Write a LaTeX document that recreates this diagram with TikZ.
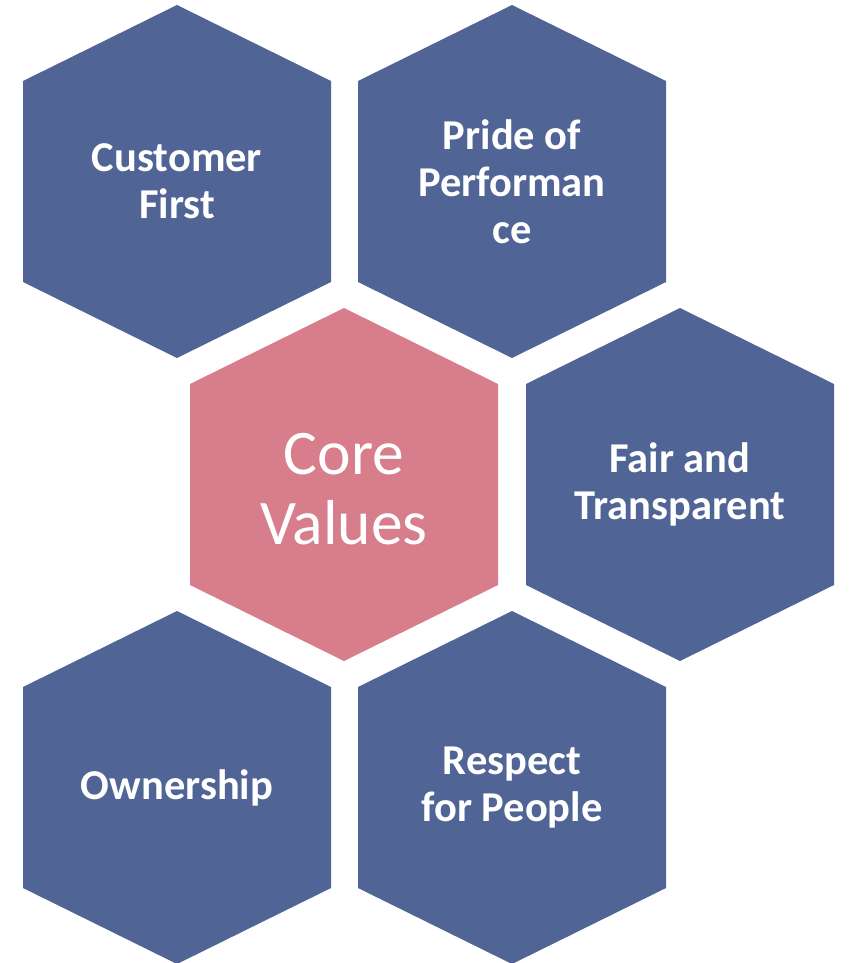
\documentclass[tikz,border=0pt]{standalone}
\usepackage{fontspec}
\setmainfont{Carlito}
\definecolor{hexblue}{HTML}{516496}
\definecolor{hexpink}{HTML}{D77D8B}
\newcommand\drawhex[3]{\fill[#3] ({#1-154},{#2-100.5}) -- (#1,{#2-176.5}) -- ({#1+154},{#2-100.5}) -- ({#1+154},{#2+100.5}) -- (#1,{#2+176.5}) -- ({#1-154},{#2+100.5}) -- cycle;}
\begin{document}
\begin{tikzpicture}[x=1pt,y=-1pt,
  valtext/.style={text=white,font=\fontsize{42.5}{47}\selectfont\bfseries,align=center,inner sep=0pt},
  coretext/.style={text=white,font=\fontsize{63.5}{70}\selectfont,align=center,inner sep=0pt}]
\useasboundingbox (0,0) rectangle (848,963);
\drawhex{177}{181.5}{hexblue}
\drawhex{512}{181.5}{hexblue}
\drawhex{344}{484.5}{hexpink}
\drawhex{680}{484.5}{hexblue}
\drawhex{177}{787.5}{hexblue}
\drawhex{512}{787.5}{hexblue}
\node[valtext] (cust) at (177,181.5) {Customer\\First};
\node[valtext] (pride) at (512,181.5) {Pride of\\Performan\\ce};
\node[coretext] (core) at (344,489) {Core\\Values};
\node[valtext] (fair) at (680,484.5) {Fair and\\Transparent};
\node[valtext] (own) at (177,787.5) {Ownership};
\node[valtext] (resp) at (512,787.5) {Respect\\for People};
\end{tikzpicture}
\end{document}
